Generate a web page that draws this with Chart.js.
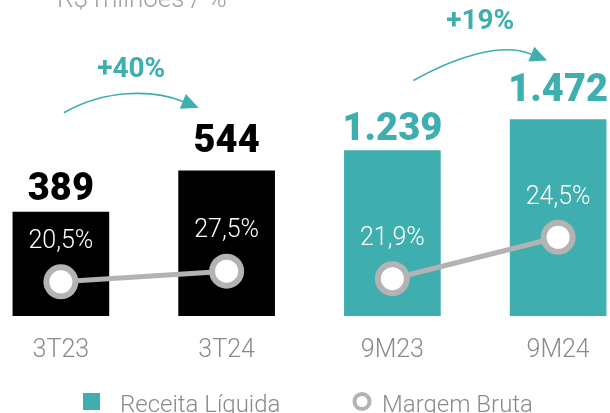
<!DOCTYPE html>
<html>
<head>
<meta charset="utf-8">
<script src="https://cdn.jsdelivr.net/npm/chart.js@4.4.1/dist/chart.umd.min.js"></script>
<style>
  html, body { margin: 0; padding: 0; background: #fff; }
  #wrap { position: relative; width: 610px; height: 413px; overflow: hidden; }
  #chart { position: absolute; left: -22px; top: 0; }
</style>
</head>
<body>
<div id="wrap"><canvas id="chart" width="663" height="413"></canvas></div>
<script>
const categories = ["3T23", "3T24", "9M23", "9M24"];
const revenue = [389, 544, 1239, 1472];          // Receita Líquida, R$ milhões
const grossMargin = [20.5, 27.5, 21.9, 24.5];    // Margem Bruta, %
const periodGroup = ["3T", "3T", "9M", "9M"];
const titleText = "R$ milhões / %";
const legendLabels = ["Receita Líquida", "Margem Bruta"];

const TEAL = "#3faeae";
const GREY = "#b3b3b3";
const TEXT_GREY = "#8a8a8a";
const SHIFT = 22; // canvas is shifted left inside the page

const only = (arr, g) => arr.map((v, i) => (periodGroup[i] === g ? v : null));
const fmtBR = (v) => v.toLocaleString("pt-BR");
const fmtPct = (v) => v.toFixed(1).replace(".", ",") + "%";

// gap between bar top and value label baseline
const labelGap = [12, 19, 11, 18];

function drawArrow(ctx, sx, sy, ex, ey) {
  const dx = ex - sx;
  const c1x = sx + dx * 0.3, c1y = sy - dx * 0.17;
  const c2x = ex - dx * 0.35, c2y = ey - dx * 0.14;
  const ang = Math.atan2(ey - c2y, ex - c2x);
  const head = 17, halfW = 8;
  const bx = ex - Math.cos(ang) * head, by = ey - Math.sin(ang) * head;
  ctx.save();
  ctx.strokeStyle = TEAL;
  ctx.fillStyle = TEAL;
  ctx.lineWidth = 1.6;
  ctx.beginPath();
  ctx.moveTo(sx, sy);
  ctx.bezierCurveTo(c1x, c1y, c2x, c2y, bx, by);
  ctx.stroke();
  ctx.beginPath();
  ctx.moveTo(ex, ey);
  ctx.lineTo(bx - Math.sin(ang) * halfW, by + Math.cos(ang) * halfW);
  ctx.lineTo(bx + Math.sin(ang) * halfW, by - Math.cos(ang) * halfW);
  ctx.closePath();
  ctx.fill();
  ctx.restore();
}

const decorPlugin = {
  id: "decor",
  afterDatasetsDraw(chart) {
    const ctx = chart.ctx;
    const bars3T = chart.getDatasetMeta(0).data;
    const bars9M = chart.getDatasetMeta(1).data;
    const pts3T = chart.getDatasetMeta(2).data;
    const pts9M = chart.getDatasetMeta(3).data;
    const barAt = (i) => (periodGroup[i] === "3T" ? bars3T[i] : bars9M[i]);
    const ptAt = (i) => (periodGroup[i] === "3T" ? pts3T[i] : pts9M[i]);

    ctx.save();
    ctx.textAlign = "center";

    // revenue labels
    ctx.font = '900 38px "Roboto Black", Roboto';
    ctx.textBaseline = "alphabetic";
    revenue.forEach((v, i) => {
      const b = barAt(i);
      ctx.fillStyle = periodGroup[i] === "3T" ? "#000" : TEAL;
      ctx.fillText(fmtBR(v), b.x, b.y - labelGap[i]);
    });

    // margin labels
    ctx.font = "300 25px Roboto";
    ctx.textBaseline = "middle";
    ctx.fillStyle = "#fff";
    grossMargin.forEach((v, i) => {
      const p = ptAt(i);
      ctx.fillText(fmtPct(v), p.x, p.y - 40);
    });

    // growth arrows
    const pairs = [[0, 1, 3, -58, -28, -63], [2, 3, 21, -39, -11, -59]];
    pairs.forEach(([a, b, sdx, sdy, edx, edy]) => {
      const ba = barAt(a), bb = barAt(b);
      const sx = ba.x + sdx, sy = bb.y + sdy;
      const ex = bb.x + edx, ey = bb.y + edy;
      drawArrow(ctx, sx, sy, ex, ey);
      const growth = Math.round((revenue[b] / revenue[a] - 1) * 100);
      ctx.font = "700 28px Roboto";
      ctx.fillStyle = TEAL;
      ctx.textBaseline = "middle";
      ctx.fillText("+" + growth + "%", (sx + ex) / 2, Math.min(sy, ey) - 38);
    });

    // title (cut at top)
    ctx.textAlign = "left";
    ctx.textBaseline = "alphabetic";
    ctx.font = "300 26px Roboto";
    ctx.fillStyle = "#a0a0a0";
    ctx.fillText(titleText, 57 + SHIFT, 7);

    // legend
    ctx.font = "300 24px Roboto";
    ctx.fillStyle = TEAL;
    ctx.fillRect(83 + SHIFT, 393, 17, 17);
    ctx.fillStyle = TEXT_GREY;
    ctx.fillText(legendLabels[0], 120 + SHIFT, 412);
    ctx.beginPath();
    ctx.arc(362 + SHIFT, 401.5, 7.5, 0, Math.PI * 2);
    ctx.lineWidth = 4;
    ctx.strokeStyle = GREY;
    ctx.stroke();
    ctx.fillText(legendLabels[1], 382 + SHIFT, 412);
    ctx.restore();
  }
};

const lineStyle = {
  type: "line",
  borderColor: GREY,
  borderWidth: 5,
  pointRadius: 14.5,
  pointHoverRadius: 14.5,
  pointBorderWidth: 6,
  pointBackgroundColor: "#fff",
  pointBorderColor: GREY,
  spanGaps: false,
  order: 0
};

new Chart(document.getElementById("chart"), {
  type: "bar",
  data: {
    labels: categories,
    datasets: [
      { label: legendLabels[0], data: only(revenue, "3T"), backgroundColor: "#000", yAxisID: "yA", grouped: false, barThickness: 96, order: 1 },
      { label: legendLabels[0], data: only(revenue, "9M"), backgroundColor: TEAL, yAxisID: "yB", grouped: false, barThickness: 96, order: 1 },
      { ...lineStyle, label: legendLabels[1], data: only(grossMargin, "3T"), yAxisID: "mA" },
      { ...lineStyle, label: legendLabels[1], data: only(grossMargin, "9M"), yAxisID: "mB" }
    ]
  },
  options: {
    responsive: false,
    devicePixelRatio: 1,
    animation: false,
    events: [],
    layout: { autoPadding: false, padding: { top: 49, bottom: 27, left: 0, right: 0 } },
    plugins: { legend: { display: false }, tooltip: { enabled: false } },
    scales: {
      x: {
        grid: { display: false, drawTicks: false },
        border: { display: false },
        ticks: { color: TEXT_GREY, padding: 20, font: { family: "Roboto", size: 25, weight: 300 } }
      },
      yA: { display: false, min: 0, max: 1000 },
      yB: { display: false, min: 0, max: 2000 },
      mA: { display: false, min: -2.2, max: 174.8 },
      mB: { display: false, min: 19.56, max: 36.31 }
    }
  },
  plugins: [decorPlugin]
});
</script>
</body>
</html>
